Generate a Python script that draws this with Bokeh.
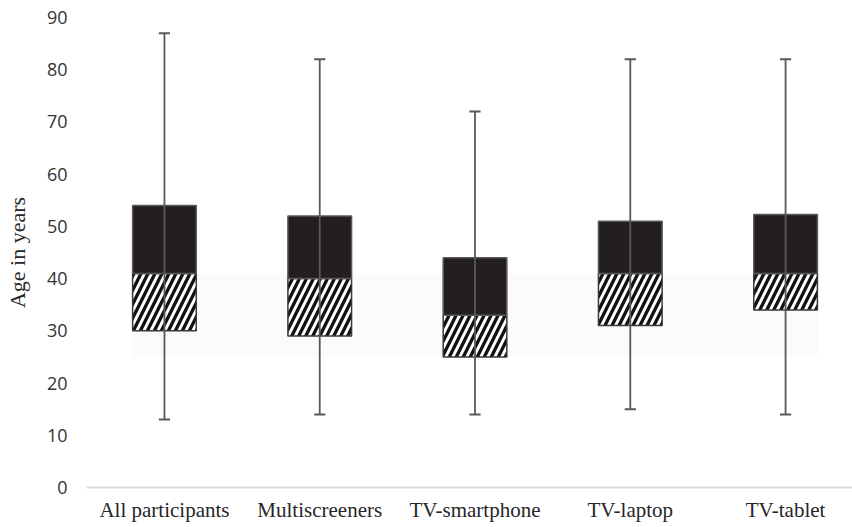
from bokeh.plotting import figure
from bokeh.models import Range1d, FixedTicker
from bokeh.embed import file_html
from bokeh.resources import INLINE

# ---- data ----
categories = ["All participants", "Multiscreeners", "TV-smartphone", "TV-laptop", "TV-tablet"]
minimum = [13, 14, 14, 15, 14]
q1 = [30, 29, 25, 31, 34]
median = [41, 40, 33, 41, 41]
q3 = [54, 52, 44, 51, 52.3]
maximum = [87, 82, 72, 82, 82]
y_ticks = [0, 10, 20, 30, 40, 50, 60, 70, 80, 90]
band_low = [25]
band_high = [41]

xs = list(range(len(categories)))

p = figure(width=852, height=527, output_backend="svg", toolbar_location=None,
           x_range=Range1d(-0.502, 4.431), y_range=Range1d(0, 90),
           min_border_left=86, min_border_right=0, min_border_top=17, min_border_bottom=40)
p.outline_line_color = None
p.xgrid.grid_line_color = None
p.ygrid.grid_line_color = None
p.background_fill_color = "white"
p.border_fill_color = "white"

# faint background band
p.quad(left=[xs[0] - 0.205], right=[xs[-1] + 0.205], bottom=band_low, top=band_high,
       fill_color="#fbfbfb", line_color=None)

# lower (hatched) boxes
p.vbar(x=xs, width=0.41, bottom=q1, top=median, fill_color="white",
       line_color="#3a3a3a", line_width=1.5,
       hatch_pattern="/", hatch_color="#111111", hatch_weight=3.3, hatch_scale=14)
# upper (solid) boxes
p.vbar(x=xs, width=0.41, bottom=median, top=q3, fill_color="#231f20",
       line_color="#595959", line_width=1.5)

# whiskers
p.segment(x0=xs, x1=xs, y0=minimum, y1=maximum, line_color="#595959", line_width=1.8)
cap = 0.036
p.segment(x0=[x - cap for x in xs], x1=[x + cap for x in xs], y0=minimum, y1=minimum,
          line_color="#595959", line_width=2)
p.segment(x0=[x - cap for x in xs], x1=[x + cap for x in xs], y0=maximum, y1=maximum,
          line_color="#595959", line_width=2)

# x axis
xa = p.xaxis[0]
xa.ticker = FixedTicker(ticks=xs)
xa.major_label_overrides = {i: c for i, c in zip(xs, categories)}
xa.major_tick_line_color = None
xa.minor_tick_line_color = None
xa.axis_line_color = "#d9d9d9"
xa.axis_line_width = 2
xa.major_label_standoff = 4
xa.major_label_text_font = "Liberation Serif"
xa.major_label_text_font_size = "21px"
xa.major_label_text_color = "#262626"

# y axis
ya = p.yaxis[0]
ya.ticker = FixedTicker(ticks=y_ticks)
ya.axis_line_color = None
ya.major_tick_line_color = None
ya.minor_tick_line_color = None
ya.major_tick_out = 0
ya.major_label_standoff = 19
ya.major_label_text_font = "Open Sans"
ya.major_label_text_font_size = "18px"
ya.major_label_text_color = "#333333"
ya.major_label_text_baseline = "alphabetic"
ya.axis_label = "Age in years"
ya.axis_label_text_font = "Liberation Serif"
ya.axis_label_text_font_size = "22px"
ya.axis_label_text_font_style = "normal"
ya.axis_label_text_color = "#262626"
ya.axis_label_standoff = 14

open("out.html", "w").write(file_html(p, INLINE))
